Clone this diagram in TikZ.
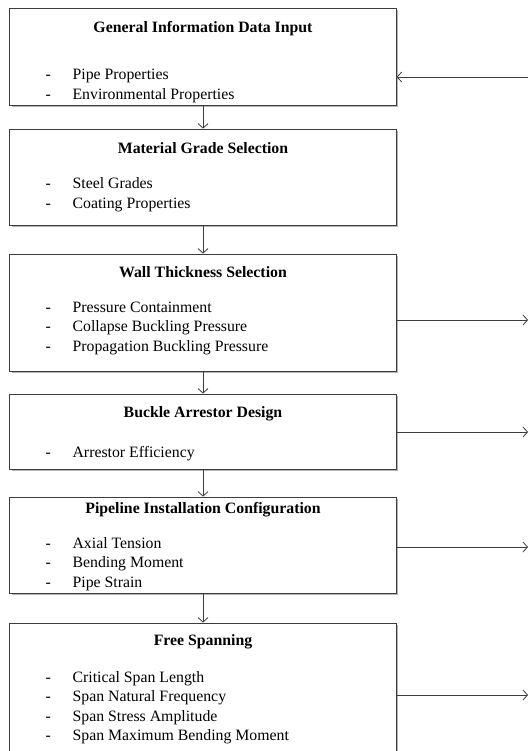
\documentclass[tikz,border=0pt]{standalone}
\usepackage{fontspec}
\setmainfont{Liberation Serif}
\usepackage{tikz}
\usetikzlibrary{arrows.meta,shadows}
\definecolor{trait}{HTML}{3C3C3C}
\definecolor{ombre}{HTML}{B4B4B4}
\newcommand{\taille}{\fontsize{15.8}{19.5}\selectfont}
\newcommand{\points}[1]{\begin{tabular}[t]{@{}p{27pt}@{}l@{}}#1\end{tabular}}
\tikzset{etape/.style={
    draw=trait,
    line width=0.8pt,
    fill=white,
    minimum width=386.5pt,
    drop shadow={shadow xshift=2.2pt,shadow yshift=-2.2pt,fill=ombre,opacity=1},
    rectangle}}
\tikzset{titre/.style={
    font=\taille\bfseries,
    inner sep=0pt}}
\tikzset{liste/.style={
    anchor=base west,
    inner sep=0pt}}
\tikzset{fleche/.style={
    draw=trait,
    line width=0.8pt,
    -{Straight Barb[length=4.5pt,width=10pt]}}}
\begin{document}
\begin{tikzpicture}[x=1pt,y=-1pt,font=\taille]
\path[use as bounding box,clip] (0,0) rectangle (530,751);
\coordinate (in1) at (528,77);
\coordinate (out3) at (528,320);
\coordinate (out4) at (528,432);
\coordinate (out5) at (528,547);
\coordinate (out6) at (528,695);

	\node[etape,minimum height=97pt] (gen) at (203,56.5) {};
	\node[etape,minimum height=96pt] (mat) at (203,177) {};
	\node[etape,minimum height=117pt] (epai) at (203,312.5) {};
	\node[etape,minimum height=75pt] (arret) at (203,431.5) {};
	\node[etape,minimum height=96pt] (pose) at (203,545) {};
	\node[etape,minimum height=137pt] (portee) at (203,691.5) {};

	\node[titre] (tgen) at (203,29) {General Information Data Input};
	\node[liste] (lgen) at (45.4,80) {\points{- & Pipe Properties\\ - & Environmental Properties}};

	\node[titre] (tmat) at (203,148) {Material Grade Selection};
	\node[liste] (lmat) at (45.4,189) {\points{- & Steel Grades\\ - & Coating Properties}};

	\node[titre] (tepai) at (203,272) {Wall Thickness Selection};
	\node[liste] (lepai) at (45.4,312) {\points{- & Pressure Containment\\ - & Collapse Buckling Pressure\\ - & Propagation Buckling Pressure}};

	\node[titre] (tarret) at (203,414) {Buckle Arrestor Design};
	\node[liste] (larret) at (45.4,457) {\points{- & Arrestor Efficiency}};

	\node[titre] (tpose) at (203,510) {Pipeline Installation Configuration};
	\node[liste] (lpose) at (45.4,548) {\points{- & Axial Tension\\ - & Bending Moment\\ - & Pipe Strain}};

	\node[titre] (tportee) at (203,642) {Free Spanning};
	\node[liste] (lportee) at (45.4,682) {\points{- & Critical Span Length\\ - & Span Natural Frequency\\ - & Span Stress Amplitude\\ - & Span Maximum Bending Moment}};

  \draw[fleche] (gen) -- (mat);
  \draw[fleche] (mat) -- (epai);
  \draw[fleche] (epai) -- (arret);
  \draw[fleche] (arret) -- (pose);
  \draw[fleche] (pose) -- (portee);

  \draw[fleche] (in1) -- (gen.east |- in1);
  \draw[fleche] (epai.east |- out3) -- (out3);
  \draw[fleche] (arret.east |- out4) -- (out4);
  \draw[fleche] (pose.east |- out5) -- (out5);
  \draw[fleche] (portee.east |- out6) -- (out6);
\end{tikzpicture}
\end{document}
